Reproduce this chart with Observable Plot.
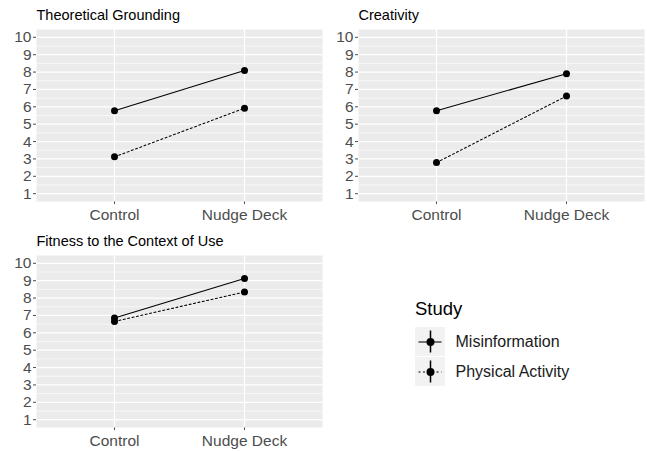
<!DOCTYPE html>
<html>
<head>
<meta charset="utf-8">
<script src="https://cdn.jsdelivr.net/npm/d3@7"></script>
<script src="https://cdn.jsdelivr.net/npm/@observablehq/plot@0.6"></script>
<style>
  html, body { margin: 0; padding: 0; background: #fff; }
  #chart { position: relative; width: 647px; height: 451px; overflow: hidden;
           font-family: "Liberation Sans", Arial, sans-serif; }
  #chart > div, #chart > svg { position: absolute; }
  .panel-title { font-size: 14.5px; line-height: 1; color: #000; white-space: nowrap; }
  .legend-title { font-size: 18.5px; line-height: 1; color: #000; }
  .panel-svg text { font-size: 15.5px !important; fill: #4D4D4D; }
  .panel-svg [aria-label$="axis"] line, .panel-svg [aria-label$="axis"] path { stroke: #333333; }
  .legend-svg text { font-size: 16px !important; }
</style>
</head>
<body>
<div id="chart"></div>
<script>
// Mean ratings per criterion, condition and study
const conditions = ["Control", "Nudge Deck"];
const studies = ["Misinformation", "Physical Activity"];
const criteria = ["Theoretical Grounding", "Creativity", "Fitness to the Context of Use"];
const misinformation = [[5.78, 8.09], [5.78, 7.90], [6.85, 9.13]];
const physicalActivity = [[3.12, 5.92], [2.79, 6.62], [6.65, 8.35]];
const yTicks = [1, 2, 3, 4, 5, 6, 7, 8, 9, 10];
const yMinor = [1.5, 2.5, 3.5, 4.5, 5.5, 6.5, 7.5, 8.5, 9.5];

const seriesByStudy = [misinformation, physicalActivity];
const dashes = [null, "2,2.5"];

const chart = document.getElementById("chart");
const fontFamily = '"Liberation Sans", Arial, sans-serif';

// Panel placement in the 2x2 grid (left, top of each svg; title sits above)
const layout = [
  {left: 0, top: 29},
  {left: 322, top: 29},
  {left: 0, top: 255}
];

criteria.forEach((criterion, ci) => {
  const rows = [];
  studies.forEach((study, si) => {
    conditions.forEach((condition, k) => {
      rows.push({criterion, study, condition, value: seriesByStudy[si][ci][k]});
    });
  });

  const svg = Plot.plot({
    width: 322,
    height: 202,
    marginLeft: 36,
    marginRight: 0,
    marginTop: 0,
    marginBottom: 30,
    style: {fontFamily, fontSize: "15.5px", color: "#4D4D4D", background: "transparent", overflow: "visible"},
    x: {type: "point", domain: conditions, padding: 0.6, label: null, tickSize: 3, tickPadding: 4},
    y: {domain: [0.55, 10.45], ticks: yTicks, label: null, tickSize: 3, tickPadding: 2},
    marks: [
      Plot.frame({fill: "#EBEBEB", stroke: "none"}),
      Plot.ruleY(yMinor, {stroke: "#FFFFFF", strokeWidth: 0.6}),
      Plot.ruleY(yTicks, {stroke: "#FFFFFF", strokeWidth: 1.2}),
      Plot.ruleX(conditions, {stroke: "#FFFFFF", strokeWidth: 1.2}),
      ...studies.map((study, si) => Plot.line(rows, {
        filter: d => d.study === study,
        x: "condition", y: "value",
        stroke: "#000", strokeWidth: 1.05,
        strokeDasharray: dashes[si]
      })),
      Plot.dot(rows, {x: "condition", y: "value", r: 3.5, fill: "#000", stroke: "none"})
    ]
  });
  svg.classList.add("panel-svg");
  svg.style.left = layout[ci].left + "px";
  svg.style.top = layout[ci].top + "px";
  chart.appendChild(svg);

  const title = document.createElement("div");
  title.className = "panel-title";
  title.textContent = criterion;
  title.style.left = (layout[ci].left + 36.5) + "px";
  title.style.top = (layout[ci].top - 21.3) + "px";
  chart.appendChild(title);
});

// Legend: title plus one key per study
const legendTitle = document.createElement("div");
legendTitle.className = "legend-title";
legendTitle.textContent = "Study";
legendTitle.style.left = "415px";
legendTitle.style.top = "300px";
chart.appendChild(legendTitle);

const key = () => "key";
const legend = Plot.plot({
  width: 200,
  height: 68,
  margin: 0,
  style: {fontFamily, fontSize: "16px", color: "#1A1A1A", background: "transparent", overflow: "visible"},
  x: {type: "band", domain: ["key"], range: [10, 40], padding: 0, axis: null},
  y: {type: "band", domain: studies, range: [4, 64], paddingInner: 0.05, paddingOuter: 0, axis: null},
  marks: [
    Plot.cell(studies, {x: key, y: d => d, fill: "#F2F2F2"}),
    Plot.tickX(studies, {x: key, y: d => d, stroke: "#000", strokeWidth: 1.5, insetTop: 3.5, insetBottom: 3.5}),
    ...studies.map((study, si) => Plot.tickY([study], {
      x: key, y: d => d, stroke: "#000", strokeWidth: 1.05,
      insetLeft: 3.5, insetRight: 3.5, strokeDasharray: dashes[si]
    })),
    Plot.dot(studies, {x: key, y: d => d, r: 4, fill: "#000", stroke: "none"}),
    Plot.text(studies, {x: key, y: d => d, text: d => d, textAnchor: "start", dx: 25, fill: "#1A1A1A"})
  ]
});
legend.classList.add("legend-svg");
legend.style.left = "405px";
legend.style.top = "322px";
chart.appendChild(legend);
</script>
</body>
</html>
